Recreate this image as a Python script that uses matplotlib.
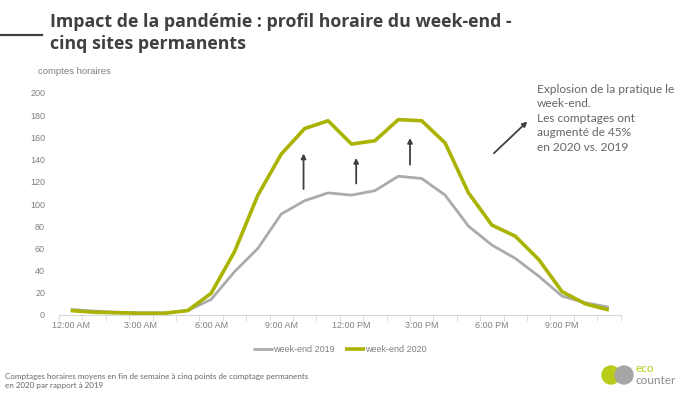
import matplotlib
matplotlib.use("Agg")
import matplotlib.pyplot as plt
from matplotlib.patches import Circle
import numpy as np

# hourly counts, 0h .. 23h
hours = list(range(24))
we_2019 = [5, 3.5, 2.5, 2, 2, 4, 14, 39, 60, 91, 103, 110, 108, 112, 125, 123,
           108, 80, 63, 51, 35, 17, 11, 7]
we_2020 = [4, 2.5, 2, 1.5, 1.5, 4, 19.5, 57, 108, 145, 168, 175, 154, 157, 176, 175,
           155, 110, 81, 71, 50, 21, 10, 4.5]
tick_pos = [0, 3, 6, 9, 12, 15, 18, 21]
tick_labels = ["12:00 AM", "3:00 AM", "6:00 AM", "9:00 AM",
               "12:00 PM", "3:00 PM", "6:00 PM", "9:00 PM"]
labels = ["week-end 2019", "week-end 2020"]

GREEN = "#a9b300"
GREY = "#ababab"
TXT = "#666666"

W, H = 700, 394
fig = plt.figure(figsize=(7, 3.94), dpi=100)

def fx(px):
    return px / W

def fy(py):
    return 1 - py / H

ax = fig.add_axes([fx(59), fy(315), (620.6 - 59) / W, (315 - 93) / H])
ax.plot(hours, we_2019, color=GREY, lw=2.0, label=labels[0], solid_capstyle="butt")
ax.plot(hours, we_2020, color=GREEN, lw=2.6, label=labels[1], solid_capstyle="butt")
ax.set_xlim(-0.5, 23.5)
ax.set_ylim(0, 200)
ax.set_yticks(range(0, 201, 20))
ax.set_xticks(tick_pos)
ax.set_xticklabels(tick_labels)
ax.set_xticks(np.arange(-0.5, 24, 1), minor=True)
for s in ["top", "right", "left"]:
    ax.spines[s].set_visible(False)
ax.spines["bottom"].set_color("#d9d9d9")
ax.tick_params(axis="y", length=0, labelsize=6.5, labelcolor="#808080", pad=10)
ax.tick_params(axis="x", which="major", length=0, labelsize=6.5, labelcolor="#808080", pad=4)
ax.tick_params(axis="x", which="minor", length=4, color="#d9d9d9")
for lab in ax.get_xticklabels() + ax.get_yticklabels():
    lab.set_family("Liberation Sans")

# arrows marking the increase
arrow_kw = dict(arrowstyle="-|>", color="#404040", lw=1.3, mutation_scale=7)
ax.annotate("", xy=(9.95, 148), xytext=(9.95, 111), arrowprops=arrow_kw)
ax.annotate("", xy=(12.2, 144), xytext=(12.2, 116), arrowprops=arrow_kw)
ax.annotate("", xy=(14.5, 162), xytext=(14.5, 133), arrowprops=arrow_kw)
ax.annotate("", xy=(19.6, 176), xytext=(18.0, 144), arrowprops=arrow_kw)

leg = ax.legend(loc="upper center", bbox_to_anchor=(0.5, -0.1), ncol=2, frameon=False,
                fontsize=6.5, handlelength=2.2, handletextpad=0.0, columnspacing=1.2)
for t in leg.get_texts():
    t.set_color("#808080")
    t.set_family("Liberation Sans")

# title block
fig.add_artist(plt.Line2D([0, fx(42)], [fy(35), fy(35)], color="#404040", lw=1.6))
fig.text(fx(50), fy(33), "Impact de la pandémie : profil horaire du week-end -\ncinq sites permanents",
         fontsize=12.8, fontweight="bold", color="#404040", family="Open Sans",
         va="center", ha="left", linespacing=1.3)
fig.text(fx(38), fy(72), "comptes horaires", fontsize=6.8, color="#808080",
         family="Liberation Sans", va="center")

fig.text(fx(537), fy(84), "Explosion de la pratique le\nweek-end.\nLes comptages ont\naugmenté de 45%\nen 2020 vs. 2019",
         fontsize=8.6, color=TXT, family="Lato", va="top", ha="left", linespacing=1.38)

fig.text(fx(5), fy(381), "Comptages horaires moyens en fin de semaine à cinq points de comptage permanents\nen 2020 par rapport à 2019",
         fontsize=5.8, color=TXT, family="Lato", va="center", ha="left", linespacing=1.35)

# logo
lx = fig.add_axes([fx(600), fy(390), fx(36), 30 / H])
lx.set_xlim(0, 36)
lx.set_ylim(0, 30)
lx.set_aspect("equal")
lx.axis("off")
lx.add_patch(Circle((11, 15), 9, color="#b8cc1a"))
lx.add_patch(Circle((24, 15), 9, color="#a6a6a6"))
fig.text(fx(636), fy(368), "eco", fontsize=8.5, color="#b8cc1a", family="Lato", va="center")
fig.text(fx(636), fy(380), "counter", fontsize=8.5, color="#8c8c8c", family="Lato", va="center")

fig.savefig("out.png", dpi=100)
